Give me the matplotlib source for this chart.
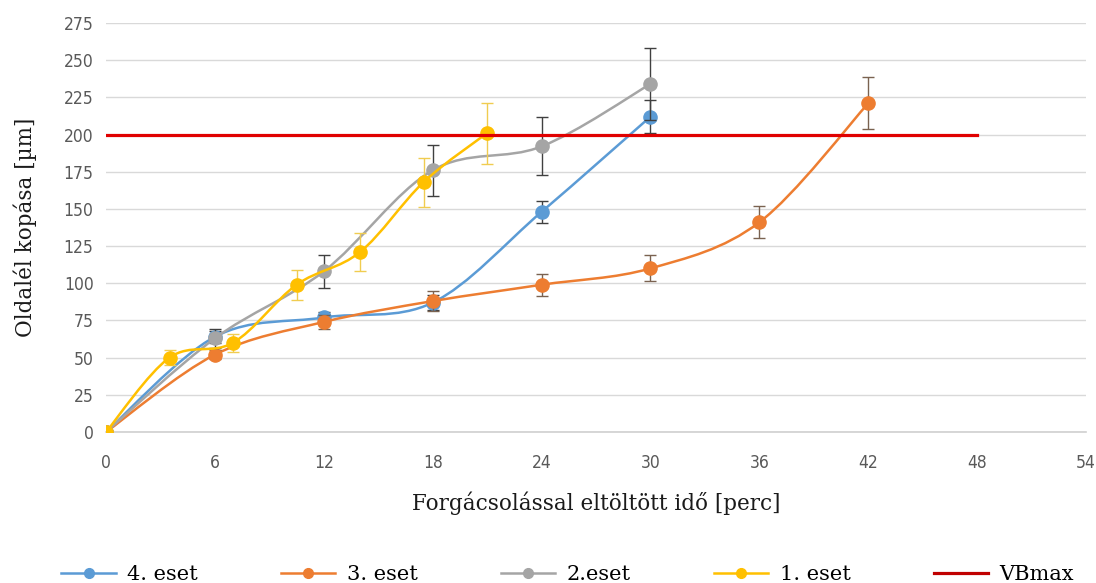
import matplotlib
matplotlib.use("Agg")
from matplotlib import pyplot as plt
from matplotlib.path import Path
from matplotlib.patches import PathPatch
from matplotlib.lines import Line2D
import numpy as np

# case data: time [perc], wear [um], error half-width
t4 = [0, 6, 12, 18, 24, 30]
v4 = [0, 64, 77, 87, 148, 212]
e4 = [0, 4, 4, 5, 7.5, 11]

t3 = [0, 6, 12, 18, 24, 30, 36, 42]
v3 = [0, 52, 74, 88, 99, 110, 141, 221]
e3 = [0, 3, 5, 6.5, 7.5, 8.7, 10.7, 17.5]

t2 = [0, 6, 12, 18, 24, 30]
v2 = [0, 63, 108, 176, 192, 234]
e2 = [0, 6.5, 11, 17, 19.5, 24]

t1 = [0, 3.5, 7, 10.5, 14, 17.5, 21]
v1 = [0, 50, 60, 99, 121, 168, 201]
e1 = [0, 5, 6, 10, 12.5, 16.5, 20.5]

vb_t = [0, 48]
vb_v = [200, 200]

labels = ["4. eset", "3. eset", "2.eset", "1. eset", "VBmax"]
xticks = [0, 6, 12, 18, 24, 30, 36, 42, 48, 54]
yticks = [0, 25, 50, 75, 100, 125, 150, 175, 200, 225, 250, 275]


def smooth_path(x, y):
    # excel-like smoothed line: cubic bezier segments
    pts = np.column_stack([x, y]).astype(float)
    verts = [pts[0]]
    codes = [Path.MOVETO]
    n = len(pts)
    for i in range(n - 1):
        p0 = pts[i - 1] if i > 0 else pts[i]
        p1 = pts[i]
        p2 = pts[i + 1]
        p3 = pts[i + 2] if i + 2 < n else pts[i + 1]
        c1 = p1 + (p2 - p0) / 6.0
        c2 = p2 - (p3 - p1) / 6.0
        verts += [c1, c2, p2]
        codes += [Path.CURVE4] * 3
    return Path(verts, codes)


fig = plt.figure(figsize=(10.96, 5.83), dpi=100)
ax = fig.add_axes([106 / 1096, 1 - 432 / 583, (1086 - 106) / 1096, (432 - 23) / 583])

series = [
    (t4, v4, e4, "#5B9BD5", "#404040"),
    (t3, v3, e3, "#ED7D31", "#7a6250"),
    (t2, v2, e2, "#A5A5A5", "#404040"),
    (t1, v1, e1, "#FFC000", "#F0CC50"),
]

handles = []
z = 3
for (t, v, e, col, ecol), lab in zip(series, labels):
    ax.add_patch(PathPatch(smooth_path(t, v), facecolor="none", edgecolor=col,
                           lw=1.8, zorder=z, capstyle="round"))
    ax.errorbar(t, v, yerr=e, fmt="none", ecolor=ecol, elinewidth=1.0,
                capsize=4, capthick=1.0, zorder=z + 0.1)
    ax.plot(t, v, "o", color=col, markersize=9.5, zorder=z + 0.2)
    handles.append(Line2D([], [], color=col, lw=1.8, marker="o", markersize=7))
    z += 1

ax.plot(vb_t, vb_v, color="#E00000", lw=2.3, zorder=z)
handles.append(Line2D([], [], color="#C00000", lw=2.3))

ax.set_xlim(0, 54)
ax.set_ylim(0, 275)
ax.set_xticks(xticks)
ax.set_yticks(yticks)
ax.yaxis.grid(True, color="#d9d9d9", lw=1.0)
ax.set_axisbelow(True)
for s in ["top", "right", "left"]:
    ax.spines[s].set_visible(False)
ax.spines["bottom"].set_color("#d0d0d0")
ax.spines["bottom"].set_linewidth(1.2)
ax.tick_params(axis="both", length=0, colors="#595959", labelsize=12.5)
ax.tick_params(axis="x", pad=16)
ax.tick_params(axis="y", pad=9)
for lbl in ax.get_xticklabels() + ax.get_yticklabels():
    lbl.set_family(["DejaVu Sans"])
    lbl.set_stretch("condensed")

ax.set_xlabel("Forgácsolással eltöltött idő [perc]", family="DejaVu Serif",
              fontsize=15.5, labelpad=14, color="#1a1a1a")
ax.set_ylabel("Oldalél kopása [µm]", family="DejaVu Serif", fontsize=15.5,
              labelpad=19, color="#1a1a1a")

fig.legend(handles, labels, loc="lower center", bbox_to_anchor=(0.518, -0.034),
           ncol=5, frameon=False, columnspacing=4.0, handlelength=2.6,
           handletextpad=0.55, prop={"family": "DejaVu Serif", "size": 15})

fig.savefig("out.png", dpi=100)
